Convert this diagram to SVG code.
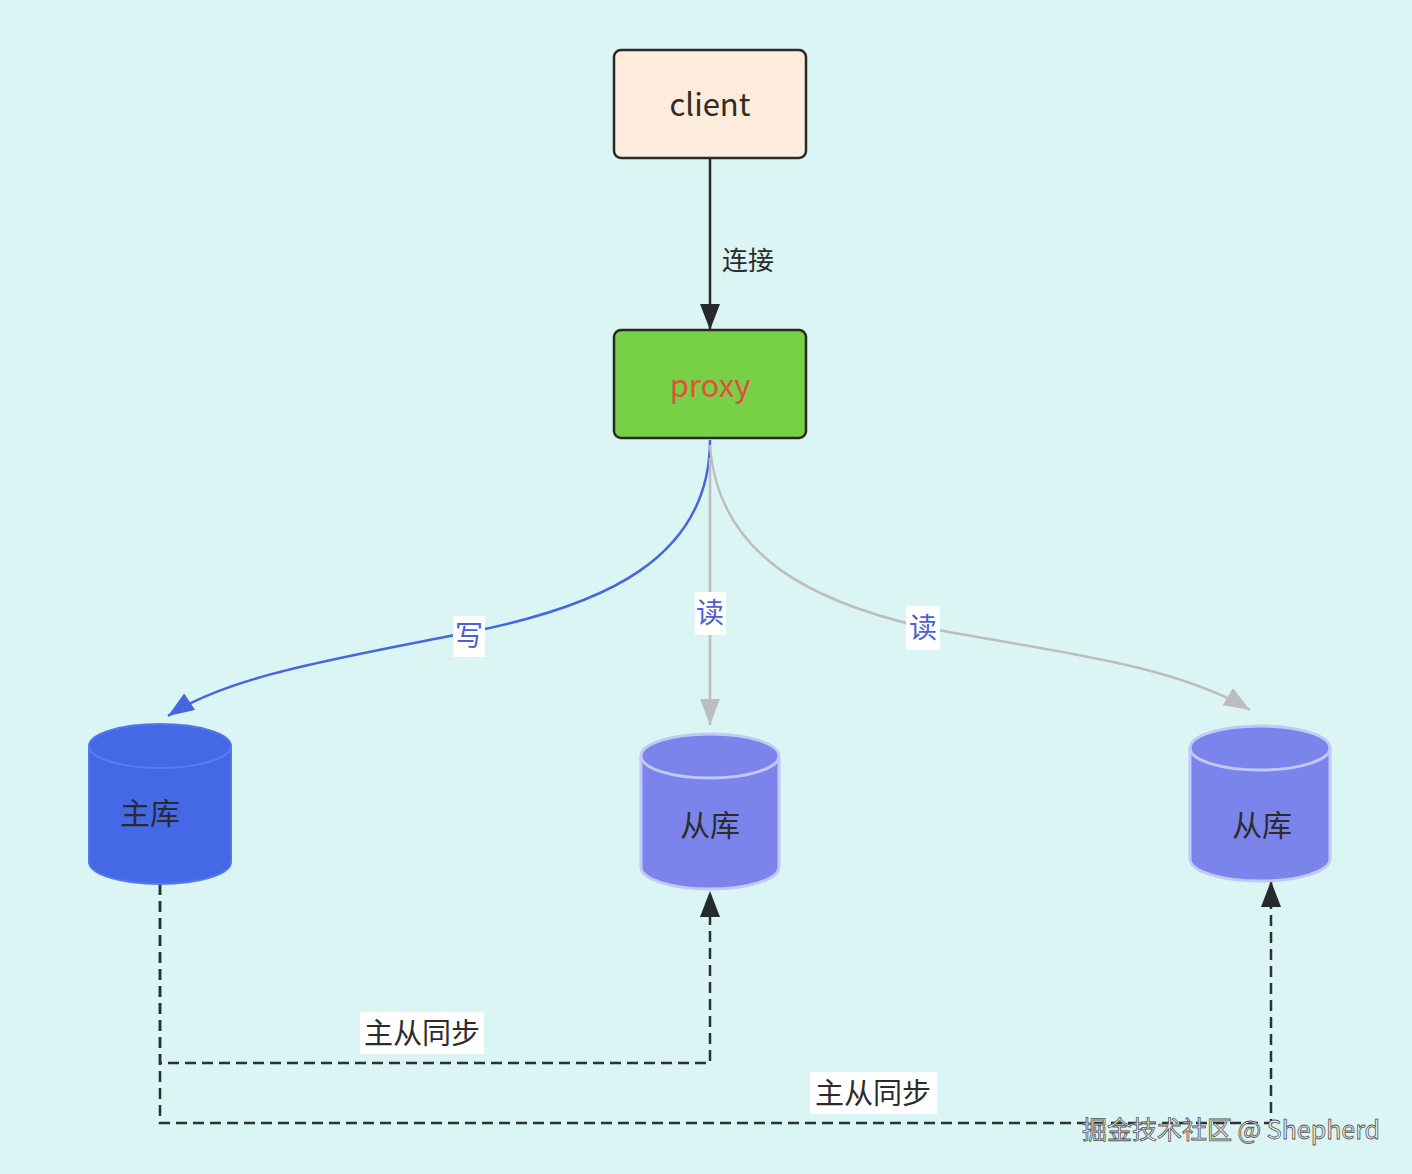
<svg xmlns="http://www.w3.org/2000/svg" width="1412" height="1174" viewBox="0 0 1412 1174">
<style>
  .t{font-family:"Noto Sans CJK SC","Liberation Sans",sans-serif;text-anchor:middle;dominant-baseline:central}
  .box{stroke:#262a2a;stroke-width:2.5}
  .lbl{fill:#ffffff}
  .blue{fill:#4d5fd6;font-size:28px}
  .dark{fill:#2b2b2b}
  .dash{fill:none;stroke:#2b3232;stroke-width:2.5;stroke-dasharray:11 6}
</style>
<defs>
  <marker id="arr-dark" markerUnits="userSpaceOnUse" markerWidth="28" markerHeight="20" viewBox="0 0 28 20" refX="26" refY="10" orient="auto">
    <path d="M0,0 L26,10 L0,20 Z" fill="#262a2a"/>
  </marker>
  <marker id="arr-blue" markerUnits="userSpaceOnUse" markerWidth="28" markerHeight="20" viewBox="0 0 28 20" refX="26" refY="10" orient="auto">
    <path d="M0,0 L26,10 L0,20 Z" fill="#4566e0"/>
  </marker>
  <marker id="arr-gray" markerUnits="userSpaceOnUse" markerWidth="28" markerHeight="20" viewBox="0 0 28 20" refX="26" refY="10" orient="auto">
    <path d="M0,0 L26,10 L0,20 Z" fill="#bdbdbd"/>
  </marker>
</defs>
<rect width="1412" height="1174" fill="#daf5f3"/>

<g id="connectors">
  <line x1="710" y1="158" x2="710" y2="330" stroke="#262a2a" stroke-width="2.5" marker-end="url(#arr-dark)"/>
  <path d="M710,440 C710,560 600,605 480,630 C340,658 230,675 168,716" fill="none" stroke="#4566e0" stroke-width="2.5" marker-end="url(#arr-blue)"/>
  <line x1="710" y1="458" x2="710" y2="725" stroke="#bdbdbd" stroke-width="2.5" marker-end="url(#arr-gray)"/>
  <path d="M710,445 C718,560 820,603 922,627 C1040,650 1170,662 1250,710" fill="none" stroke="#bdbdbd" stroke-width="2.5" marker-end="url(#arr-gray)"/>
  <polyline class="dash" points="160,884 160,1063 710,1063 710,891" marker-end="url(#arr-dark)"/>
  <polyline class="dash" points="160,884 160,1123 1271,1123 1271,881" marker-end="url(#arr-dark)"/>
</g>

<g id="label-connect"><text class="t dark" x="748" y="258" font-size="26">连接</text></g>
<g id="label-write"><rect class="lbl" x="453" y="616" width="32" height="41"/><text class="t blue" x="469" y="634">写</text></g>
<g id="label-read1"><rect class="lbl" x="695" y="592" width="31" height="43"/><text class="t blue" x="710" y="611">读</text></g>
<g id="label-read2"><rect class="lbl" x="906" y="606" width="34" height="44"/><text class="t blue" x="923" y="626">读</text></g>
<g id="label-sync1"><rect class="lbl" x="360" y="1012" width="124" height="42"/><text class="t dark" x="422" y="1031" font-size="29">主从同步</text></g>
<g id="label-sync2"><rect class="lbl" x="810" y="1072" width="127" height="42"/><text class="t dark" x="873" y="1091" font-size="29">主从同步</text></g>

<g id="client">
  <rect class="box" x="614" y="50" width="192" height="108" rx="7" fill="#fdebdc"/>
  <text class="t" x="710" y="102" font-size="31" fill="#2e2a26">client</text>
</g>
<g id="proxy">
  <rect class="box" x="614" y="330" width="192" height="108" rx="7" fill="#78d046"/>
  <text class="t" x="710" y="383" font-size="31" fill="#e0503a">proxy</text>
</g>

<g id="master">
  <path d="M89,746 A71,22 0 0 1 231,746 V862 A71,22 0 0 1 89,862 Z" fill="#4568e6" stroke="#5577ee" stroke-width="2"/>
  <path d="M89,746 A71,22 0 0 0 231,746" fill="none" stroke="#5b7cf0" stroke-width="2"/>
  <text class="t dark" x="150" y="811" font-size="30">主库</text>
</g>
<g id="slave1">
  <path d="M641,756 A69,22 0 0 1 779,756 V867 A69,22 0 0 1 641,867 Z" fill="#7a84ea" stroke="#c3c8fb" stroke-width="3"/>
  <path d="M641,756 A69,22 0 0 0 779,756" fill="none" stroke="#c3c8fb" stroke-width="3"/>
  <text class="t dark" x="710" y="823" font-size="30">从库</text>
</g>
<g id="slave2">
  <path d="M1190,748 A70,22 0 0 1 1330,748 V859 A70,22 0 0 1 1190,859 Z" fill="#7a84ea" stroke="#c3c8fb" stroke-width="3"/>
  <path d="M1190,748 A70,22 0 0 0 1330,748" fill="none" stroke="#c3c8fb" stroke-width="3"/>
  <text class="t dark" x="1262" y="823" font-size="30">从库</text>
</g>

<g id="watermark">
  <text x="1231" y="1128" font-family="Noto Sans CJK SC, Liberation Sans, sans-serif" font-size="25" text-anchor="middle" dominant-baseline="central" fill="#f2f2f2" stroke="#555" stroke-width="0.8">掘金技术社区 @ Shepherd</text>
</g>
</svg>
